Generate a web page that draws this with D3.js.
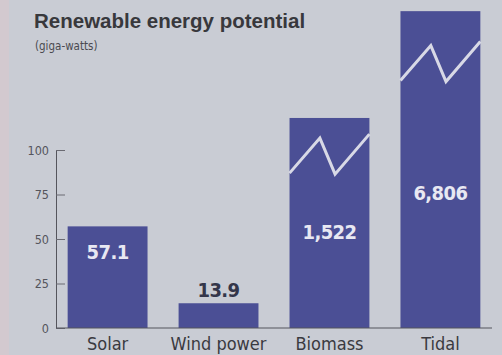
<!DOCTYPE html>
<html>
<head>
<meta charset="utf-8">
<script src="https://cdn.jsdelivr.net/npm/d3@7"></script>
<style>
  body { margin: 0; background: #c9ccd4; }
  svg { display: block; }
</style>
</head>
<body>
<div class="chart"></div>
<script>
const svgWidth = 502
const svgHeight = 355

// data
const categories = ["Solar", "Wind power", "Biomass", "Tidal"]
const values = [57.1, 13.9, 1522, 6806]
const valueLabels = ["57.1", "13.9", "1,522", "6,806"]
// bars over 100 are drawn cut off, with a break mark
const drawnHeights = [57.1, 13.9, 118, 178]
const breakAt = [null, null, 87, 139]
const yTicks = [0, 25, 50, 75, 100]

const condensed = "DejaVu Sans Condensed, DejaVu Sans, sans-serif"

let svg = d3.select(".chart")
	.append("svg")
	.attr("width", svgWidth)
	.attr("height", svgHeight)

svg.append("rect")
	.attr("width", svgWidth)
	.attr("height", svgHeight)
	.attr("fill", "#c9ccd4")

// faint pinkish strip at the left edge of the scan
svg.append("rect")
	.attr("width", 9)
	.attr("height", svgHeight)
	.attr("fill", "#d3c9cf")

let x = d3.scaleBand()
	.domain(categories)
	.range([61, 487])
	.paddingInner(0.28)
	.paddingOuter(0.06)

let y = d3.scaleLinear()
	.domain([0, 100])
	.range([328, 150])

// title
svg.append("text")
	.attr("x", 34)
	.attr("y", 28)
	.attr("font-family", "Liberation Sans, Arial, sans-serif")
	.attr("font-weight", "bold")
	.attr("font-size", 20.5)
	.attr("fill", "#38383c")
	.text("Renewable energy potential")

svg.append("text")
	.attr("x", 35)
	.attr("y", 50)
	.attr("font-family", condensed)
	.attr("font-size", 11.5)
	.attr("fill", "#4a4a50")
	.text("(giga-watts)")

// y axis
let leftAxis = d3.axisRight(y)
	.tickValues(yTicks)
	.tickSize(9)
	.tickFormat(d3.format("d"))

let yAxis = svg.append("g")
	.attr("transform", "translate(56,0)")
	.call(leftAxis)

yAxis.select(".domain").attr("stroke", "#55555c")
yAxis.selectAll(".tick line").attr("stroke", "#6a6a72")
yAxis.selectAll(".tick text")
	.attr("x", -7)
	.attr("text-anchor", "end")
	.attr("font-family", condensed)
	.attr("font-size", 12.5)
	.attr("fill", "#55555c")

// bars
let bars = svg.selectAll(".bar")
	.data(categories)
	.enter()
	.append("rect")
	.attr("class", "bar")
	.attr("x", d => x(d))
	.attr("width", x.bandwidth())
	.attr("y", (d, i) => y(drawnHeights[i]))
	.attr("height", (d, i) => y(0) - y(drawnHeights[i]))
	.attr("fill", "#4b4f95")

// break marks
let breakShape = [[0, 0], [0.38, -35], [0.57, 1], [1, -39]]
svg.selectAll(".break")
	.data(categories.filter((d, i) => breakAt[i] !== null))
	.enter()
	.append("path")
	.attr("class", "break")
	.attr("fill", "none")
	.attr("stroke", "#d8d9e6")
	.attr("stroke-width", 3)
	.attr("d", d => {
		let i = categories.indexOf(d)
		let base = y(breakAt[i])
		return d3.line()(breakShape.map(p => [x(d) + p[0] * x.bandwidth(), base + p[1]]))
	})

// baseline
svg.append("line")
	.attr("x1", 56)
	.attr("x2", 492)
	.attr("y1", y(0))
	.attr("y2", y(0))
	.attr("stroke", "#55555c")
	.attr("stroke-width", 1.2)

// value labels
const labelY = [252, 290, 232, 193]
svg.selectAll(".val")
	.data(categories)
	.enter()
	.append("text")
	.attr("class", "val")
	.attr("x", d => x(d) + x.bandwidth() / 2)
	.attr("y", (d, i) => labelY[i])
	.attr("dy", "0.35em")
	.attr("text-anchor", "middle")
	.attr("font-family", condensed)
	.attr("font-weight", "bold")
	.attr("font-size", 20)
	.attr("letter-spacing", -0.6)
	.attr("fill", (d, i) => values[i] > 20 ? "#e8e8f2" : "#34364a")
	.text((d, i) => valueLabels[i])

// category labels
svg.selectAll(".cat")
	.data(categories)
	.enter()
	.append("text")
	.attr("class", "cat")
	.attr("x", d => x(d) + x.bandwidth() / 2)
	.attr("y", 350)
	.attr("text-anchor", "middle")
	.attr("font-family", condensed)
	.attr("font-size", 18)
	.attr("fill", "#3a3a40")
	.text(d => d)
</script>
</body>
</html>
